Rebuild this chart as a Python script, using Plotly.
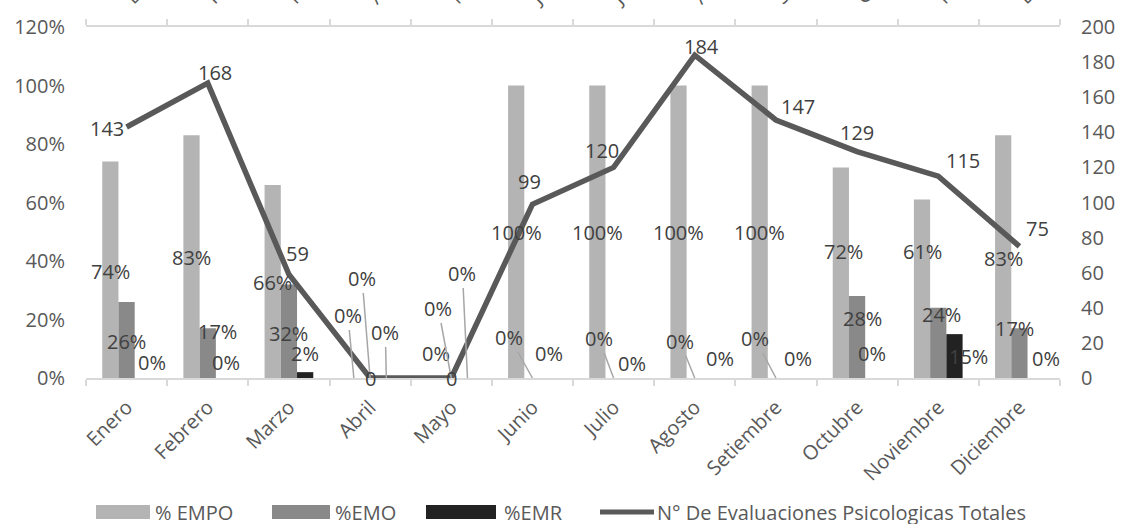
import plotly.graph_objects as go

# ---- data -------------------------------------------------------------
months = ["Enero", "Febrero", "Marzo", "Abril", "Mayo", "Junio", "Julio",
          "Agosto", "Setiembre", "Octubre", "Noviembre", "Diciembre"]
empo = [74, 83, 66, 0, 0, 100, 100, 100, 100, 72, 61, 83]   # % EMPO
emo = [26, 17, 32, 0, 0, 0, 0, 0, 0, 28, 24, 17]            # %EMO
emr = [0, 0, 2, 0, 0, 0, 0, 0, 0, 0, 15, 0]                 # %EMR
totals = [143, 168, 59, 0, 0, 99, 120, 184, 147, 129, 115, 75]

pct_ticks = [0, 20, 40, 60, 80, 100, 120]
count_ticks = [0, 20, 40, 60, 80, 100, 120, 140, 160, 180, 200]

# ---- style ------------------------------------------------------------
FONT = "Open Sans"
TXT = "#404040"
AX_TXT = "#595959"
AXIS = "#d9d9d9"
C_EMPO, C_EMO, C_EMR, C_LINE = "#b4b4b4", "#898989", "#222222", "#595959"

W, H = 1121, 524
L, R, T, B = 86, 1060, 27, 378          # plot-area edges in pixels


def px_x(p):
    return (p - L) / (R - L)


def px_y(p):
    return (B - p) / (B - T)


# label offsets in pixels (dx to the right, dy downwards) from the bar centre
empo_off = [(0, 2), (0, 1), (0, 1), (-6, -63), (1, -25), (0, 1), (0, 1),
            (0, 1), (0, 1), (3, -21), (0, -37), (0, 2)]
emo_off = [(0, 2), (10, -22), (0, 2), (-8, -100), (-13, -70), (-23, -41),
           (-15, -40), (-15, -37), (-21, -40), (5, -19), (3, -28), (-5, -25)]
emr_off = [(9, -16), (2, -16), (0, -22), (-1, -46), (-5, -105), (0, -25),
           (2, -15), (9, -20), (6, -20), (-1, -25), (14, 0), (10, -20)]
# labels joined to their bar by a leader line: (series, month index)
leaders = {(0, 3), (1, 3), (2, 3), (1, 4), (2, 4), (1, 5), (1, 6), (1, 7), (1, 8)}
# offsets of the totals labels from their line points
tot_off = [(-20, 1), (7, -11), (9, -21), (0, 0), (0, 0), (-3, -23), (-12, -17),
           (7, -9), (22, -14), (0, -19), (25, -16), (18, -18)]

fig = go.Figure()

series = [("% EMPO", empo, C_EMPO, empo_off),
          ("%EMO", emo, C_EMO, emo_off),
          ("%EMR", emr, C_EMR, emr_off)]

for name, vals, col, _ in series:
    fig.add_trace(go.Bar(
        x=months, y=[v / 100 for v in vals], name=name,
        marker=dict(color=col, line=dict(width=0)),
        xaxis="x", yaxis="y", showlegend=False, hoverinfo="skip"))

fig.add_trace(go.Scatter(
    x=months, y=totals, mode="lines", name="N° De Evaluaciones Psicologicas Totales",
    line=dict(color=C_LINE, width=5.5), xaxis="x2", yaxis="y2",
    showlegend=False, hoverinfo="skip"))

annotations = []
bar_w = 0.2
for s, (name, vals, col, offs) in enumerate(series):
    for i, v in enumerate(vals):
        xc = i + (s - 1) * bar_w
        dx, dy = offs[i]
        if (s, i) in leaders:
            annotations.append(dict(
                x=xc, y=0, xref="x", yref="y", text=f"{v}%",
                showarrow=True, arrowhead=0, arrowwidth=1.5, arrowcolor="#a6a6a6",
                ax=dx, ay=dy, standoff=0,
                font=dict(family=FONT, size=20, color=TXT)))
        else:
            annotations.append(dict(
                x=xc, y=v / 200, xref="x", yref="y", text=f"{v}%",
                showarrow=False, xshift=dx, yshift=-dy,
                font=dict(family=FONT, size=20, color=TXT)))

for i, v in enumerate(totals):
    dx, dy = tot_off[i]
    annotations.append(dict(
        x=i, y=v, xref="x2", yref="y2", text=str(v), showarrow=False,
        xshift=dx, yshift=-dy, font=dict(family=FONT, size=20, color=TXT)))

# legend drawn as swatches + text below the axis labels
shapes = []
leg_y0, leg_y1, leg_yc = 505, 519, 512
for (x0, x1), col in zip([(96, 150), (272, 330), (426, 496)], [C_EMPO, C_EMO, C_EMR]):
    shapes.append(dict(type="rect", xref="paper", yref="paper",
                       x0=px_x(x0), x1=px_x(x1), y0=px_y(leg_y1), y1=px_y(leg_y0),
                       fillcolor=col, line=dict(width=0)))
shapes.append(dict(type="line", xref="paper", yref="paper",
                   x0=px_x(600), x1=px_x(654), y0=px_y(leg_yc), y1=px_y(leg_yc),
                   line=dict(color=C_LINE, width=5)))
for xl, txt in zip([153, 333, 502, 655],
                   ["% EMPO", "%EMO", "%EMR", "N° De Evaluaciones Psicologicas Totales"]):
    annotations.append(dict(x=px_x(xl), y=px_y(leg_yc), xref="paper", yref="paper",
                            text=txt, showarrow=False, xanchor="left", yanchor="middle",
                            font=dict(family=FONT, size=20, color=AX_TXT)))

cat_axis = dict(type="category", categoryorder="array", categoryarray=months,
                range=[-0.5, 11.5], tickson="boundaries", ticks="outside", ticklen=6,
                tickcolor=AXIS, tickwidth=1.5, showline=True, linecolor=AXIS, linewidth=1.5,
                showgrid=False, zeroline=False, tickangle=-45, automargin=False,
                tickfont=dict(family=FONT, size=20, color=AX_TXT))

fig.update_layout(
    width=W, height=H, template="none",
    margin=dict(l=L, r=W - R, t=T, b=H - B),
    paper_bgcolor="white", plot_bgcolor="white",
    barmode="group", bargap=0.4, bargroupgap=0,
    xaxis=dict(cat_axis, anchor="y", ticklabelstandoff=8),
    xaxis2=dict(cat_axis, overlaying="x", side="top", anchor="y", ticklabelstandoff=9),
    yaxis=dict(range=[0, 1.2], tickvals=[t / 100 for t in pct_ticks],
               ticktext=[f"{t}%" for t in pct_ticks], showgrid=False, zeroline=False,
               showline=False, ticks="", ticklabelstandoff=20, automargin=False,
               tickfont=dict(family=FONT, size=20, color=AX_TXT)),
    yaxis2=dict(range=[0, 200], tickvals=count_ticks, overlaying="y", side="right",
                anchor="x", showgrid=False, zeroline=False, showline=False, ticks="",
                ticklabelstandoff=20, automargin=False,
                tickfont=dict(family=FONT, size=20, color=AX_TXT)),
    annotations=annotations, shapes=shapes, showlegend=False,
)

fig.write_html("out.html")
